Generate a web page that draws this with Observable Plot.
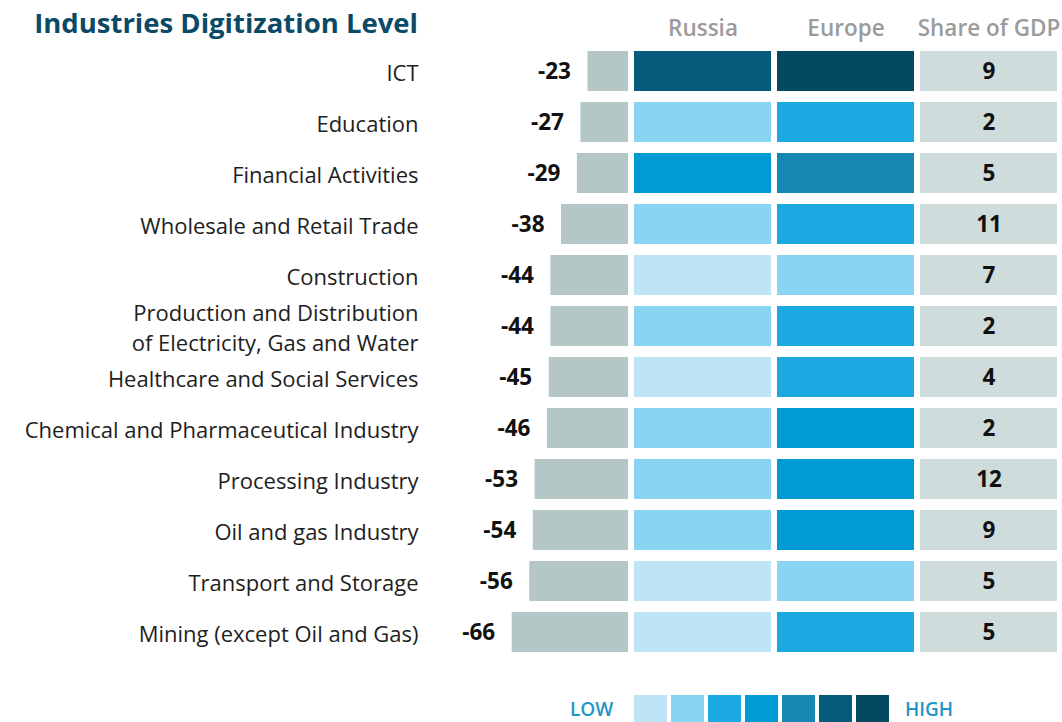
<!DOCTYPE html>
<html>
<head>
<meta charset="utf-8">
<script src="https://cdn.jsdelivr.net/npm/d3@7"></script>
<script src="https://cdn.jsdelivr.net/npm/@observablehq/plot@0.6"></script>
<style>
  body { margin: 0; background: #fff; }
  #wrap { position: relative; width: 1062px; height: 722px; overflow: hidden; font-family: "Open Sans", sans-serif; }
  #wrap > svg { position: absolute; left: 0; top: 0; }
  #title { position: absolute; left: 0; top: 4px; width: 418px; text-align: right; font-weight: 700; font-size: 27.5px; color: #0b4a67; white-space: nowrap; }
  .lg { position: absolute; top: 696px; font-size: 19px; font-weight: 600; color: #2196c8; }
</style>
</head>
<body>
<div id="wrap">
  <div id="title">Industries Digitization Level</div>
</div>
<script>
const industries = [
  "ICT",
  "Education",
  "Financial Activities",
  "Wholesale and Retail Trade",
  "Construction",
  "Production and Distribution\nof Electricity, Gas and Water",
  "Healthcare and Social Services",
  "Chemical and Pharmaceutical Industry",
  "Processing Industry",
  "Oil and gas Industry",
  "Transport and Storage",
  "Mining (except Oil and Gas)"
];
const gap = [-23, -27, -29, -38, -44, -44, -45, -46, -53, -54, -56, -66];
const russiaLevel = [6, 2, 4, 2, 1, 2, 1, 2, 2, 2, 1, 1];
const europeLevel = [7, 3, 5, 3, 2, 3, 3, 4, 4, 4, 2, 3];
const gdpShare = [9, 2, 5, 11, 7, 2, 4, 2, 12, 9, 5, 5];
const columns = ["Russia", "Europe", "Share of GDP"];
const levels = [1, 2, 3, 4, 5, 6, 7];
const levelColors = ["#bee5f6", "#89d4f2", "#1ca8e0", "#009ad4", "#1487b3", "#065b7a", "#034a61"];

const FONT = "'Open Sans', sans-serif";
const rows = industries.map((industry, i) => ({industry, gap: gap[i]}));
const heat = industries.flatMap((industry, i) => [
  {industry, column: "Russia", level: russiaLevel[i]},
  {industry, column: "Europe", level: europeLevel[i]}
]);
const share = industries.map((industry, i) => ({industry, column: "Share of GDP", value: gdpShare[i]}));

const yScale = {domain: industries, paddingInner: 0.207, paddingOuter: 0, axis: null};
const wrap = document.getElementById("wrap");

const left = Plot.plot({
  width: 1062, height: 722,
  marginLeft: 424, marginRight: 434, marginTop: 51, marginBottom: 69,
  x: {domain: [-80, 0], range: [487, 628], axis: null},
  y: yScale,
  style: {fontFamily: FONT, background: "transparent", overflow: "visible"},
  marks: [
    Plot.axisY({tickSize: 0, tickPadding: 6, fontSize: 22, lineHeight: 1.38, color: "#1e1e1e", label: null}),
    Plot.barX(rows, {x: "gap", y: "industry", fill: "#b5c6c6"}),
    Plot.text(rows, {x: "gap", y: "industry", text: d => String(d.gap), textAnchor: "end", dx: -17, fontWeight: 700, fontSize: 22.5, fill: "#111"})
  ]
});
wrap.appendChild(left);

const right = Plot.plot({
  width: 1062, height: 722,
  marginLeft: 634, marginRight: 5, marginTop: 51, marginBottom: 69,
  x: {domain: columns, paddingInner: 0.045, paddingOuter: 0},
  y: yScale,
  color: {type: "ordinal", domain: levels, range: levelColors},
  style: {fontFamily: FONT, background: "transparent", overflow: "visible"},
  marks: [
    Plot.axisX({anchor: "top", tickSize: 0, tickPadding: 16, fontSize: 22.5, fontWeight: 600, color: "#9b9b9b", label: null}),
    Plot.cell(heat, {x: "column", y: "industry", fill: "level"}),
    Plot.cell(share, {x: "column", y: "industry", fill: "#cfdcdc"}),
    Plot.text(share, {x: "column", y: "industry", text: "value", fontWeight: 700, fontSize: 22.5, fill: "#111"})
  ]
});
wrap.appendChild(right);

const legend = Plot.plot({
  width: 255, height: 28, margin: 0,
  x: {domain: levels, type: "band", paddingInner: 0.11, paddingOuter: 0, axis: null},
  color: {type: "ordinal", domain: levels, range: levelColors},
  style: {background: "transparent"},
  marks: [Plot.cell(levels, {x: d => d, fill: d => d})]
});
legend.style.left = "634px";
legend.style.top = "695px";
wrap.appendChild(legend);

const low = document.createElement("div");
low.className = "lg"; low.textContent = "LOW"; low.style.left = "570px";
wrap.appendChild(low);
const high = document.createElement("div");
high.className = "lg"; high.textContent = "HIGH"; high.style.left = "905px";
wrap.appendChild(high);
</script>
</body>
</html>
